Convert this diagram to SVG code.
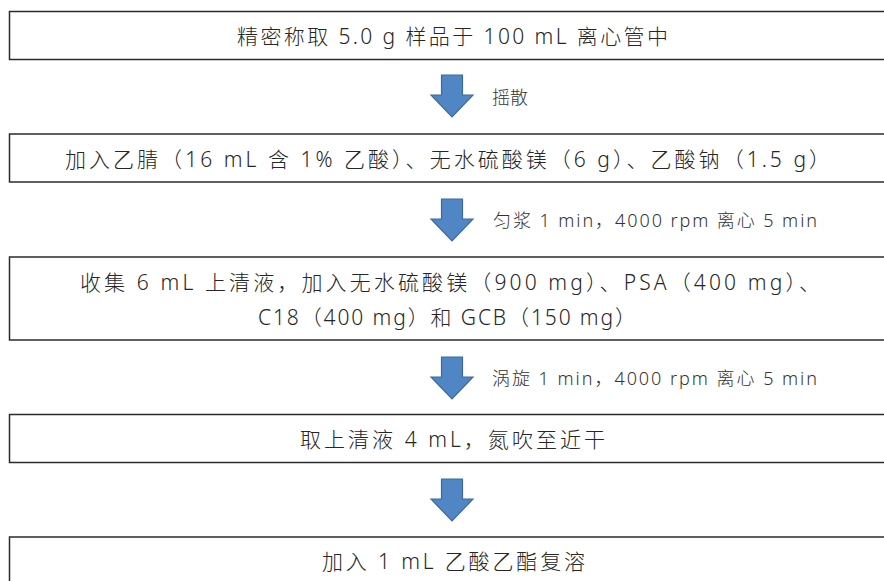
<svg xmlns="http://www.w3.org/2000/svg" width="884" height="581" viewBox="0 0 884 581">
<style>
.box{fill:#fff;stroke:#2b2b2b;stroke-width:1.5}
.t{font-family:"Noto Sans","Noto Sans CJK SC",sans-serif;font-size:21px;font-weight:300;fill:#262626;text-anchor:middle;dominant-baseline:central}
.l{font-family:"Noto Sans","Noto Sans CJK SC",sans-serif;font-size:18px;font-weight:300;fill:#333;dominant-baseline:central}
.arr{fill:#4f86c3;stroke:#3d6a9e;stroke-width:1.2}
</style>
<defs>
<path id="down" d="M-10.5,0 H10.5 V20 H21 L0,42 L-21,20 H-10.5 Z"/>
</defs>
<rect width="884" height="581" fill="#fff"/>
<g id="node1"><rect class="box" x="9.5" y="11.5" width="882" height="48"/><text class="t" x="452.5" y="36" textLength="431">精密称取 5.0 g 样品于 100 mL 离心管中</text></g>
<g id="node2"><rect class="box" x="9.5" y="134" width="882" height="48"/><text class="t" x="447.5" y="159" textLength="765">加入乙腈（16 mL 含 1% 乙酸）、无水硫酸镁（6 g）、乙酸钠（1.5 g）</text></g>
<g id="node3"><rect class="box" x="9.5" y="257" width="882" height="83"/><text class="t" x="450" y="282" textLength="740">收集 6 mL 上清液，加入无水硫酸镁（900 mg）、PSA（400 mg）、</text><text class="t" x="447" y="317" textLength="378">C18（400 mg）和 GCB（150 mg）</text></g>
<g id="node4"><rect class="box" x="9.5" y="414.5" width="882" height="48"/><text class="t" x="452.5" y="439" textLength="305">取上清液 4 mL，氮吹至近干</text></g>
<g id="node5"><rect class="box" x="9.5" y="537" width="882" height="60"/><text class="t" x="453.5" y="561" textLength="263">加入 1 mL 乙酸乙酯复溶</text></g>
<g id="connectors">
<use href="#down" class="arr" x="452" y="75"/>
<use href="#down" class="arr" x="452" y="199"/>
<use href="#down" class="arr" x="452" y="357"/>
<use href="#down" class="arr" x="452" y="479"/>
<text class="l" x="492" y="97">摇散</text>
<text class="l" x="493" y="220" textLength="324">匀浆 1 min，4000 rpm 离心 5 min</text>
<text class="l" x="492" y="378" textLength="325">涡旋 1 min，4000 rpm 离心 5 min</text>
</g>
</svg>
